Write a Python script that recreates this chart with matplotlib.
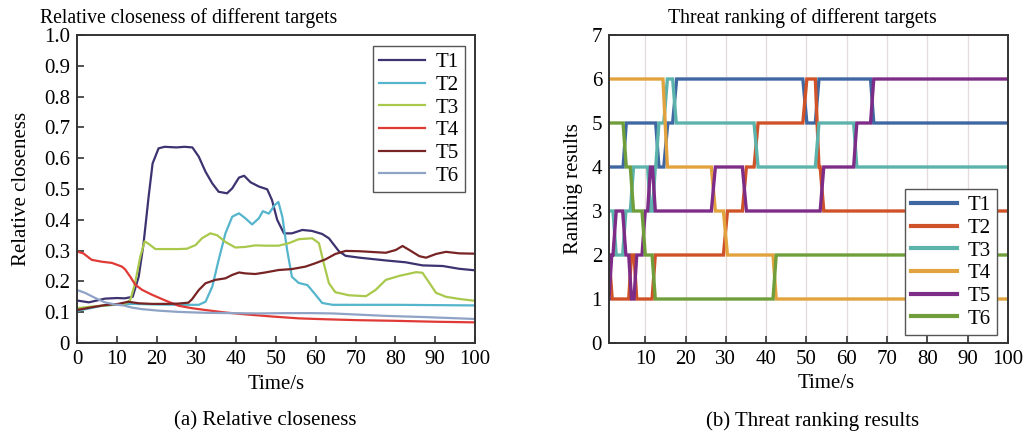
import matplotlib
matplotlib.use('Agg')
import matplotlib.pyplot as plt

plt.rcParams['font.family'] = ['Liberation Serif', 'DejaVu Serif']
plt.rcParams['mathtext.fontset'] = 'stix'

NAMES = ['T1', 'T2', 'T3', 'T4', 'T5', 'T6']

# (a) relative closeness
T1_T = [0, 3, 7, 10, 12, 14, 15.5, 16.7, 18, 19, 20.5, 22, 25, 27, 29, 30.6, 32.3, 34, 35.6, 37.7, 39, 40.7, 42,
        43.6, 45.7, 47.8, 49, 50.3, 52, 54, 56.6, 59, 61.6, 63.3, 65.8, 67.5, 71, 77.6, 82.6, 86.8, 91.9, 96, 100]
T1_V = [0.138, 0.132, 0.144, 0.146, 0.145, 0.15, 0.215, 0.32, 0.475, 0.583, 0.632, 0.637, 0.635, 0.637, 0.635,
        0.605, 0.556, 0.518, 0.491, 0.486, 0.502, 0.537, 0.543, 0.522, 0.508, 0.499, 0.464, 0.4, 0.356, 0.356,
        0.367, 0.364, 0.354, 0.34, 0.298, 0.283, 0.277, 0.268, 0.262, 0.252, 0.25, 0.241, 0.236]
T2_T = [0, 3, 6, 10, 14, 20, 26, 30.6, 32.3, 34, 35.6, 37.3, 39, 40.7, 42.3, 44, 45.7, 46.7, 48.2, 49.7, 50.6,
        51.6, 52.8, 54, 55.7, 57.9, 59.6, 61.6, 64.2, 70, 80, 90, 100]
T2_V = [0.104, 0.112, 0.12, 0.125, 0.127, 0.125, 0.124, 0.124, 0.134, 0.183, 0.27, 0.356, 0.41, 0.421, 0.405,
        0.385, 0.405, 0.428, 0.42, 0.448, 0.458, 0.41, 0.302, 0.215, 0.195, 0.188, 0.162, 0.13, 0.124, 0.124,
        0.124, 0.123, 0.122]
T3_T = [0, 5, 10, 12, 13.4, 14.6, 15.9, 17, 18, 19.7, 22, 25.5, 27.6, 29.8, 31.4, 33.5, 35.2, 37.3, 39.8, 42.3,
        44.8, 47.3, 50.7, 53.2, 55.7, 59.1, 60.8, 62, 63.3, 64.9, 68.3, 72.6, 75, 77.6, 81, 85.2, 86.8, 88.5,
        90.2, 92.7, 96.1, 100]
T3_V = [0.113, 0.12, 0.125, 0.127, 0.14, 0.194, 0.28, 0.33, 0.322, 0.305, 0.305, 0.305, 0.306, 0.318, 0.34,
        0.356, 0.35, 0.328, 0.31, 0.312, 0.317, 0.316, 0.316, 0.324, 0.337, 0.34, 0.324, 0.259, 0.194, 0.165,
        0.155, 0.152, 0.172, 0.205, 0.218, 0.23, 0.228, 0.196, 0.163, 0.15, 0.143, 0.137]
T4_T = [0, 1.6, 3.7, 6.2, 8.8, 11.3, 12.1, 13.4, 14.6, 16.3, 18.8, 22.2, 25.5, 28.9, 32.3, 37.3, 42.3, 49, 55.7,
        62.5, 70.9, 80, 90, 100]
T4_V = [0.297, 0.291, 0.27, 0.264, 0.26, 0.248, 0.239, 0.215, 0.19, 0.173, 0.157, 0.138, 0.121, 0.113, 0.107,
        0.099, 0.093, 0.086, 0.08, 0.077, 0.074, 0.072, 0.069, 0.067]
T5_T = [0, 3.7, 7, 10.4, 12.9, 15.5, 18.8, 22.2, 25.5, 28, 28.9, 30.6, 32.3, 34.8, 37.3, 39, 40.7, 42.3, 44.8,
        47.3, 50.7, 54, 57.4, 59.9, 62.5, 64.9, 67.5, 70.9, 77.6, 80.1, 81.8, 83.5, 86, 87.7, 90.2, 92.7, 96.1, 100]
T5_V = [0.107, 0.116, 0.123, 0.127, 0.134, 0.129, 0.127, 0.127, 0.128, 0.131, 0.142, 0.172, 0.194, 0.205, 0.21,
        0.221, 0.229, 0.226, 0.224, 0.229, 0.237, 0.24, 0.248, 0.259, 0.272, 0.289, 0.299, 0.298, 0.293, 0.302,
        0.315, 0.302, 0.282, 0.277, 0.289, 0.296, 0.291, 0.29]
T6_T = [0, 2, 4.6, 7, 9.6, 11.7, 13.8, 16.3, 20.5, 25.5, 32.3, 39, 45.7, 52.5, 59.1, 64.2, 70.9, 77.6, 87.7, 100]
T6_V = [0.172, 0.163, 0.146, 0.132, 0.125, 0.122, 0.115, 0.11, 0.105, 0.101, 0.098, 0.097, 0.096, 0.097, 0.097,
        0.096, 0.092, 0.088, 0.084, 0.078]

# (b) ranking, corner points of each step line
R1_T = [1, 4.5, 5.3, 12.6, 13.4, 14.6, 15.6, 16.8, 17.8, 49.1, 50.1, 52.2, 53.1, 65.9, 66.7, 100]
R1_R = [4, 4, 5, 5, 4, 4, 5, 5, 6, 6, 5, 5, 6, 6, 5, 5]
R2_T = [1, 1.8, 5.9, 6.6, 7.2, 7.9, 11.7, 12.5, 29.4, 30.4, 34.1, 35.1, 37.0, 38.0, 49.1, 50.1, 52.2, 53.1, 53.4,
        54.3, 100]
R2_R = [2, 1, 1, 2, 2, 1, 1, 2, 2, 3, 3, 4, 4, 5, 5, 6, 6, 4, 4, 3, 3]
R3_T = [1, 2.0, 2.8, 4.4, 5.2, 6.3, 7.1, 10.6, 11.3, 11.8, 12.5, 12.6, 13.4, 14.6, 15.5, 16.8, 17.7, 37.0, 38.0,
        52.2, 53.1, 61.7, 62.5, 100]
R3_R = [3, 3, 2, 2, 3, 3, 4, 4, 3, 3, 4, 4, 5, 5, 6, 6, 5, 5, 4, 4, 5, 5, 4, 4]
R4_T = [1, 14.4, 15.5, 26.4, 27.4, 29.4, 30.4, 41.7, 42.5, 100]
R4_R = [6, 6, 4, 4, 3, 3, 2, 2, 1, 1]
R5_T = [1, 1.7, 2.0, 2.8, 4.4, 5.2, 5.9, 6.6, 7.2, 7.9, 9.2, 10.0, 10.6, 11.3, 11.8, 12.5, 26.4, 27.4, 34.1,
        35.1, 53.4, 54.3, 61.7, 62.5, 65.9, 66.7, 100]
R5_R = [1, 2, 2, 3, 3, 2, 2, 1, 1, 2, 2, 3, 3, 4, 4, 3, 3, 4, 4, 3, 3, 4, 4, 5, 5, 6, 6]
R6_T = [1, 4.5, 5.3, 6.3, 7.1, 9.2, 10.0, 11.7, 12.5, 41.7, 42.5, 100]
R6_R = [5, 5, 4, 4, 3, 3, 2, 2, 1, 1, 2, 2]

LEFT_COLORS = ['#3e3270', '#55b5cc', '#a9c94c', '#e03a36', '#782424', '#8fa3c6']
RIGHT_COLORS = ['#3f68a3', '#cf5228', '#5cb3ab', '#e2a23e', '#7d2c87', '#6f9e3a']

SPINE = '#333333'


def style_axes(ax):
    for s in ax.spines.values():
        s.set_color(SPINE)
        s.set_linewidth(1.4)
    ax.tick_params(direction='in', length=5, width=1.2, color=SPINE, labelsize=15, pad=5,
                   top=False, right=False)


fig = plt.figure(figsize=(10.25, 4.37), dpi=100)

# ---- (a) ----
ax1 = fig.add_axes([0.0751, 0.2151, 0.3883, 0.7048])
left_t = [T1_T, T2_T, T3_T, T4_T, T5_T, T6_T]
left_v = [T1_V, T2_V, T3_V, T4_V, T5_V, T6_V]
for t, v, c, n in zip(left_t, left_v, LEFT_COLORS, NAMES):
    ax1.plot(t, v, color=c, linewidth=1.6, label=n)
ax1.set_xlim(0, 100)
ax1.set_ylim(0, 1.0)
ax1.set_xticks(range(0, 101, 10))
ax1.set_yticks([i / 10 for i in range(11)])
ax1.set_yticklabels(['0'] + ['%.1f' % (i / 10) for i in range(1, 11)])
style_axes(ax1)
ax1.set_title('Relative closeness of different targets', fontsize=14.2, pad=9, x=0.28)
ax1.set_xlabel('Time/s', fontsize=15, labelpad=4)
ax1.set_ylabel('Relative closeness', fontsize=15, labelpad=9)
leg1 = ax1.legend(loc='upper right', fontsize=15, fancybox=False, edgecolor='#555555',
                  handlelength=2.2, handletextpad=0.5, borderpad=0.3, borderaxespad=0.0,
                  labelspacing=0.15, framealpha=1, bbox_to_anchor=(0.975, 0.963))
leg1.get_frame().set_linewidth(1.0)

# ---- (b) ----
ax2 = fig.add_axes([0.5941, 0.2151, 0.3893, 0.7048])
right_t = [R1_T, R2_T, R3_T, R4_T, R5_T, R6_T]
right_r = [R1_R, R2_R, R3_R, R4_R, R5_R, R6_R]
for t, r, c, n in zip(right_t, right_r, RIGHT_COLORS, NAMES):
    ax2.plot(t, r, color=c, linewidth=2.4, label=n, solid_joinstyle='miter')
ax2.set_xlim(1, 100)
ax2.set_ylim(0, 7)
ax2.set_xticks(range(10, 101, 10))
ax2.set_yticks(range(0, 8))
ax2.grid(axis='x', color='#e6dcdc', linewidth=1.0)
ax2.set_axisbelow(True)
style_axes(ax2)
ax2.set_title('Threat ranking of different targets', fontsize=14.2, pad=9, x=0.485)
ax2.set_xlabel('Time/s', fontsize=15, labelpad=4)
ax2.xaxis.set_label_coords(0.544, -0.1)
ax2.set_ylabel('Ranking results', fontsize=15, labelpad=6)
leg2 = ax2.legend(loc='lower right', fontsize=15, fancybox=False, edgecolor='#555555',
                  handlelength=2.2, handletextpad=0.5, borderpad=0.3, borderaxespad=0.0,
                  labelspacing=0.15, framealpha=1, bbox_to_anchor=(0.972, 0.026))
leg2.get_frame().set_linewidth(1.0)
for line in leg2.get_lines():
    line.set_linewidth(3)

fig.text(0.2585, 0.037, '(a) Relative closeness', ha='center', va='center', fontsize=15)
fig.text(0.793, 0.037, '(b) Threat ranking results', ha='center', va='center', fontsize=15)

fig.savefig('out.png', dpi=100)
